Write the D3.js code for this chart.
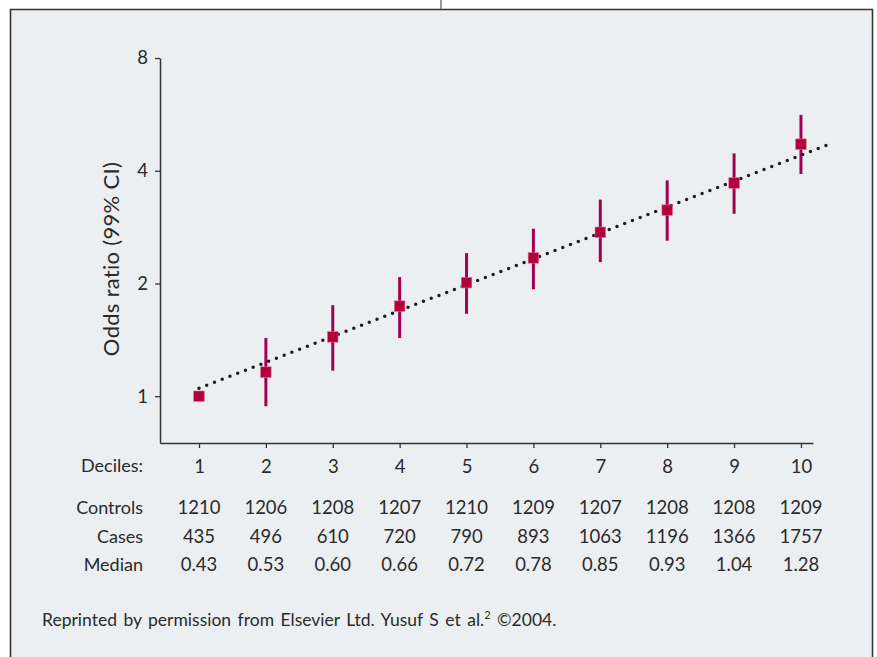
<!DOCTYPE html>
<html>
<head>
<meta charset="utf-8">
<script src="https://cdn.jsdelivr.net/npm/d3@7"></script>
<style>
  html, body { margin: 0; padding: 0; background: #ffffff; }
  svg { display: block; }
  text { font-family: Lato, "Noto Sans", sans-serif; fill: #2a2a2a; }
</style>
</head>
<body>
<svg id="chart" width="877" height="657"></svg>
<script>
// ---- data ----
const deciles = [1, 2, 3, 4, 5, 6, 7, 8, 9, 10];
const oddsRatio = [1.00, 1.16, 1.44, 1.74, 2.01, 2.34, 2.74, 3.14, 3.71, 4.71];
const ciLower = [null, 0.94, 1.17, 1.43, 1.66, 1.93, 2.28, 2.60, 3.07, 3.92];
const ciUpper = [null, 1.43, 1.75, 2.08, 2.41, 2.80, 3.35, 3.77, 4.45, 5.64];
const trendX = [1, 10.4];
const trendOR = [1.05, 4.69];
const yTicks = [1, 2, 4, 8];
const controls = [1210, 1206, 1208, 1207, 1210, 1209, 1207, 1208, 1208, 1209];
const cases = [435, 496, 610, 720, 790, 893, 1063, 1196, 1366, 1757];
const medians = ["0.43", "0.53", "0.60", "0.66", "0.72", "0.78", "0.85", "0.93", "1.04", "1.28"];
const rowLabels = ["Controls", "Cases", "Median"];
const yLabel = "Odds ratio (99% CI)";
const xRowLabel = "Deciles:";

// ---- layout ----
const svg = d3.select("#chart");
const W = 877, H = 657;
const frame = { left: 10.5, top: 9.5, right: 872.5 };
const plot = { left: 160, right: 813, top: 58, bottom: 443 };

const x = d3.scaleLinear().domain([0.417, 10.18]).range([plot.left, plot.right]);
const y = d3.scaleLog().base(2).domain([0.75, 8]).range([plot.bottom, plot.top]);

// background frame
svg.append("rect").attr("x", frame.left).attr("y", frame.top)
  .attr("width", frame.right - frame.left).attr("height", H - frame.top)
  .attr("fill", "#eceff2");
svg.append("path")
  .attr("d", `M${frame.left},${H} V${frame.top} H${frame.right} V${H}`)
  .attr("fill", "none").attr("stroke", "#333").attr("stroke-width", 1.6);
svg.append("line").attr("x1", 441).attr("x2", 441).attr("y1", 0).attr("y2", frame.top)
  .attr("stroke", "#555").attr("stroke-width", 1.2);

// axes
const axisColor = "#333";
const yAxis = svg.append("g").attr("transform", `translate(${plot.left},0)`)
  .call(d3.axisLeft(y).tickValues(yTicks).tickFormat(d3.format("d")).tickSize(5).tickSizeOuter(0).tickPadding(7));
const xAxis = svg.append("g").attr("transform", `translate(0,${plot.bottom})`)
  .call(d3.axisBottom(x).tickValues(deciles).tickFormat(d3.format("d")).tickSize(5).tickSizeOuter(0).tickPadding(12));
[yAxis, xAxis].forEach(g => {
  g.attr("font-family", "Lato, sans-serif").attr("font-size", 18);
  g.selectAll("path.domain").attr("stroke", axisColor).attr("stroke-width", 1.5);
  g.selectAll(".tick line").attr("stroke", axisColor).attr("stroke-width", 1.3);
  g.selectAll(".tick text").attr("font-size", 18.5).attr("fill", "#2a2a2a");
});

// y label
svg.append("text")
  .attr("transform", `translate(119,259) rotate(-90)`)
  .attr("text-anchor", "middle").attr("font-size", 22).attr("letter-spacing", 0.3).text(yLabel);

// deciles row label
svg.append("text").attr("x", 143).attr("y", 472).attr("text-anchor", "end")
  .attr("font-size", 18).text(xRowLabel);

// error bars
const barData = deciles.map((d, i) => ({ d, lo: ciLower[i], hi: ciUpper[i] })).filter(e => e.lo != null);
svg.append("g").selectAll("line").data(barData).join("line")
  .attr("x1", e => x(e.d)).attr("x2", e => x(e.d))
  .attr("y1", e => y(e.lo)).attr("y2", e => y(e.hi))
  .attr("stroke", "#a3004f").attr("stroke-width", 3);

// dotted trend line
svg.append("path")
  .datum(trendX.map((t, i) => [t, trendOR[i]]))
  .attr("d", d3.line().x(p => x(p[0])).y(p => y(p[1])))
  .attr("fill", "none").attr("stroke", "#1e1e1e").attr("stroke-width", 3.5)
  .attr("stroke-linecap", "round").attr("stroke-dasharray", "0 8.3");

// markers
const ms = 10.5;
svg.append("g").selectAll("rect").data(deciles).join("rect")
  .attr("x", (d) => x(d) - ms / 2).attr("y", (d, i) => y(oddsRatio[i]) - ms / 2)
  .attr("width", ms).attr("height", ms)
  .attr("fill", "#b2003a").attr("stroke", "#d86a88").attr("stroke-width", 0.6);

// table
const rows = [controls, cases, medians];
const rowY = [514, 543, 571];
rows.forEach((vals, r) => {
  svg.append("text").attr("x", 143).attr("y", rowY[r]).attr("text-anchor", "end")
    .attr("font-size", 18).text(rowLabels[r]);
  svg.append("g").selectAll("text").data(vals).join("text")
    .attr("x", (v, i) => x(deciles[i])).attr("y", rowY[r]).attr("text-anchor", "middle")
    .attr("font-size", 18.5).text(v => v);
});

// footnote
const fn = svg.append("text").attr("x", 42).attr("y", 626).attr("font-size", 17.5)
  .attr("word-spacing", 2);
fn.append("tspan").text("Reprinted by permission from Elsevier Ltd. Yusuf S et al.");
fn.append("tspan").attr("font-size", 11).attr("dy", -7).text("2");
fn.append("tspan").attr("dy", 7).text(" ©2004.");
</script>
</body>
</html>
